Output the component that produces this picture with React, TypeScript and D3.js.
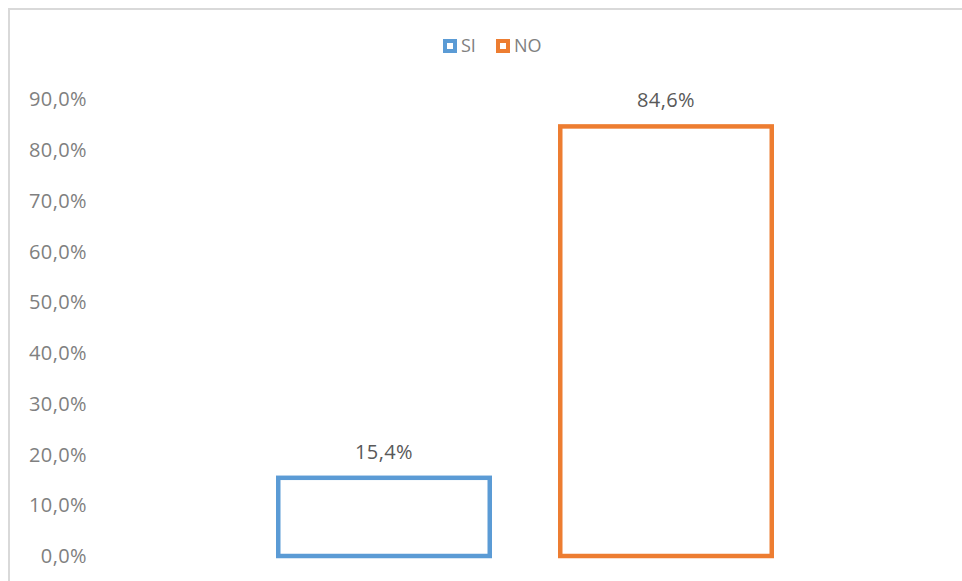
import { useEffect, useRef } from "react";
import * as d3 from "d3";

const categories = ["SI", "NO"];
const values = [15.4, 84.6];
const colors = ["#5b9bd5", "#ed7d31"];
const yTicks = [0, 10, 20, 30, 40, 50, 60, 70, 80, 90];

const W = 962;
const H = 581;
const fmt = (v: number) => d3.format(".1f")(v).replace(".", ",") + "%";

export default function App() {
  const ref = useRef<SVGSVGElement>(null);

  useEffect(() => {
    const svg = d3.select(ref.current);
    svg.selectAll("*").remove();

    // chart frame (cropped, only top and left edges show)
    svg.append("path")
      .attr("d", `M9,${H} V9 H${W}`)
      .attr("fill", "none")
      .attr("stroke", "#d9d9d9")
      .attr("stroke-width", 2);

    const y = d3.scaleLinear().domain([0, 90]).range([556, 99]);
    const x = d3.scaleBand<string>()
      .domain(categories)
      .range([243, 807])
      .paddingInner(0.25)
      .paddingOuter(0.125);

    const font = "'Open Sans', sans-serif";

    // y tick labels
    svg.append("g")
      .selectAll("text")
      .data(yTicks)
      .join("text")
      .attr("x", 87)
      .attr("y", (d) => y(d))
      .attr("dy", "0.36em")
      .attr("text-anchor", "end")
      .attr("fill", "#808080")
      .style("font-family", font)
      .style("font-size", "20px")
      .style("letter-spacing", "0.4px")
      .text((d) => fmt(d));

    // bars (outline only)
    svg.append("g")
      .selectAll("rect")
      .data(values)
      .join("rect")
      .attr("x", (_, i) => x(categories[i])!)
      .attr("y", (d) => y(d))
      .attr("width", x.bandwidth())
      .attr("height", (d) => y(0) - y(d))
      .attr("fill", "#fff")
      .attr("stroke", (_, i) => colors[i])
      .attr("stroke-width", 4.5);

    // data labels
    svg.append("g")
      .selectAll("text")
      .data(values)
      .join("text")
      .attr("x", (_, i) => x(categories[i])! + x.bandwidth() / 2)
      .attr("y", (d) => y(d) - 19)
      .attr("text-anchor", "middle")
      .attr("fill", "#595959")
      .style("font-family", font)
      .style("font-size", "20px")
      .style("letter-spacing", "0.4px")
      .text((d) => fmt(d));

    // legend
    const lg = svg.append("g");
    const lx = [443, 496];
    categories.forEach((c, i) => {
      lg.append("rect")
        .attr("x", lx[i] + 2)
        .attr("y", 41)
        .attr("width", 10)
        .attr("height", 10)
        .attr("fill", "#fff")
        .attr("stroke", colors[i])
        .attr("stroke-width", 4);
      lg.append("text")
        .attr("x", lx[i] + 18)
        .attr("y", 46)
        .attr("dy", "0.36em")
        .attr("fill", "#808080")
        .style("font-family", font)
        .style("font-size", "18px")
        .text(c);
    });
  }, []);

  return (
    <svg
      ref={ref}
      width={W}
      height={H}
      style={{ position: "absolute", left: 0, top: 0, background: "#fff" }}
    />
  );
}
